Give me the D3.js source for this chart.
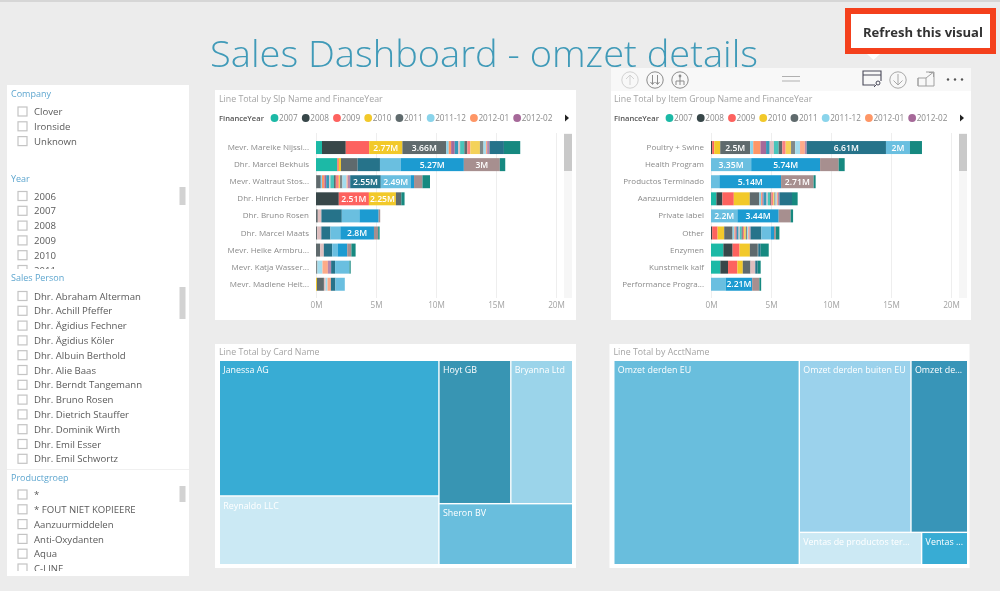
<!DOCTYPE html>
<html>
<head>
<meta charset="utf-8">
<title>Sales Dashboard - omzet details</title>
<script src="https://cdn.jsdelivr.net/npm/d3@7"></script>
<style>
  html, body { margin: 0; padding: 0; background: #ececec; overflow: hidden; }
  svg { display: block; font-family: "Open Sans", sans-serif; }
  .axis .domain { display: none; }
</style>
</head>
<body>
<div id="chart-area"></div>
<script>
// legend + stack order
const financeYears = ["2007", "2008", "2009", "2010", "2011", "2011-12", "2012-01", "2012-02",
    "2012-03", "2012-04", "2012-05", "2012-06", "2012-07", "2012-08", "2012-09", "2012-10",
    "2012-11", "2012-12", "2013", "2014", "2015", "2016", "2017"]
const yearColors = ["#1cb9a6", "#374649", "#fd625e", "#f2c92c", "#5f6b6d", "#8ad4eb", "#fe9666", "#a66999",
    "#3599b8", "#dfbfbf", "#4ac5bb", "#5f6b6d", "#fb8281", "#f4d25a", "#7f898a", "#a4ddee",
    "#fdab89", "#b687ac", "#28738a", "#6bbfe0", "#1a9bd1", "#a78f8f", "#168980"]

const slpNames = ["Mevr. Mareike Nijssi...", "Dhr. Marcel Bekhuis", "Mevr. Waltraut Stos...", "Dhr. Hinrich Ferber",
    "Dhr. Bruno Rosen", "Dhr. Marcel Maats", "Mevr. Heike Armbru...", "Mevr. Katja Wasser...", "Mevr. Madlene Heit..."]
const slpValues = [
    [.5, 1.98, 1.95, 2.77, 3.66, .2, .2, .3, .3, .15, .35, .25, .25, .8, .3, .2, .1, .2, 1.2, 0, 0, 0, 1.36],
    [1.78, 0, .12, .18, 1.39, 0, 0, 0, 0, 0, 0, 0, 0, 0, 0, 0, 0, 0, 1.86, 1.72, 5.27, 3, .45],
    [0, .05, 0, 0, .35, .1, .2, .15, .25, .1, .3, .15, .25, .1, .2, .35, .1, .2, 2.55, 2.49, .28, .7, .63],
    [0, 1.9, 2.51, 2.25, .45, 0, 0, 0, 0, 0, 0, 0, 0, 0, 0, 0, 0, 0, 0, 0, 0, 0, .27],
    [0, 0, 0, 0, .15, 0, 0, 0, 0, .3, 0, 0, 0, 0, 0, 0, 0, 0, 1.7, 1.47, 1.6, .13, 0],
    [0, 0, 0, 0, .1, 0, 0, 0, 0, .3, 0, 0, 0, 0, 0, 0, 0, .05, .75, .83, 2.8, .35, .12],
    [0, 0, 0, 0, .35, 0, 0, 0, 0, .3, 0, 0, 0, 0, 0, 0, 0, 0, .7, .45, .8, .35, .35],
    [0, 0, 0, 0, 0, 0, 0, 0, 0, 0, 0, 0, 0, 0, .12, .42, .45, .27, .33, 1.2, 0, 0, .1],
    [0, 0, 0, .08, .58, 0, 0, 0, 0, .15, 0, 0, 0, 0, 0, .15, .28, 0, .38, .78, 0, 0, 0]
]

const itemGroups = ["Poultry + Swine", "Health Program", "Productos Terminado", "Aanzuurmiddelen", "Private label",
    "Other", "Enzymen", "Kunstmelk kalf", "Performance Progra..."]
const itemValues = [
    [0, .1, .17, .5, 2.5, .25, .6, .47, .3, .35, .4, .3, .28, .45, .35, .4, .4, .15, 6.61, 2, 0, 0, 1],
    [0, 0, 0, 0, 0, 0, 0, 0, 0, 0, 0, 0, 0, 0, 0, 0, 0, 0, 0, 3.35, 5.74, 1.55, .5],
    [0, 0, 0, 0, 0, 0, 0, 0, 0, 0, 0, 0, 0, 0, 0, 0, 0, 0, 0, .7, 5.14, 2.71, .17],
    [.45, .5, .95, 1.33, .8, .15, .1, .1, .25, .1, .2, .1, .15, .1, .1, .1, .1, .12, 1.05, 0, 0, 0, .47],
    [0, 0, 0, 0, 0, 0, 0, 0, 0, 0, 0, 0, 0, 0, 0, 0, 0, 0, 0, 2.2, 3.44, 1, .2],
    [0, .1, .45, .55, .7, .15, .1, .1, .15, .1, .15, .1, .1, .15, .1, .1, .1, .1, .9, .8, .25, .15, .3],
    [1.03, .77, .58, .86, .6, 0, 0, 0, 0, 0, 0, 0, 0, 0, .1, 0, 0, 0, .2, 0, 0, 0, .67],
    [.78, .64, .78, .45, .64, 0, 0, 0, 0, .4, 0, 0, 0, 0, 0, 0, 0, 0, .2, 0, 0, 0, .25],
    [0, 0, 0, 0, 0, 0, 0, 0, 0, 0, 0, 0, 0, 0, 0, 0, 0, 0, 0, 1.22, 2.21, .6, .15]
]
const xTicks = [0, 5, 10, 15, 20]

// treemaps: nested lists give the split order power bi used
const cardTree = { children: [
    { children: [
        { name: "Janessa AG", value: 29.2, color: "#38acd4" },
        { name: "Reynaldo LLC", value: 14.8, color: "#cbe9f4" } ] },
    { children: [
        { children: [
            { name: "Hoyt GB", value: 10.1, color: "#3895b3" },
            { name: "Bryanna Ltd", value: 8.7, color: "#9bd4ea" } ] },
        { name: "Sheron BV", value: 8, color: "#69bedd" } ] }
] }
const acctTree = { children: [
    { name: "Omzet derden EU", value: 36.9, color: "#69bedd" },
    { children: [
        { children: [
            { name: "Omzet derden buiten EU", value: 18.7, color: "#9bd2ec" },
            { name: "Omzet de...", value: 9.5, color: "#3895b8" } ] },
        { children: [
            { name: "Ventas de productos ter...", value: 3.85, color: "#cce9f4" },
            { name: "Ventas ...", value: 1.45, color: "#38acd4" } ] } ] }
] }

// slicers
const companies = ["Clover", "Ironside", "Unknown"]
const years = ["2006", "2007", "2008", "2009", "2010", "2011"]
const salesPeople = ["Dhr. Abraham Alterman", "Dhr. Achill Pfeffer", "Dhr. Ägidius Fechner", "Dhr. Ägidius Köler",
    "Dhr. Albuin Berthold", "Dhr. Alie Baas", "Dhr. Berndt Tangemann", "Dhr. Bruno Rosen", "Dhr. Dietrich Stauffer",
    "Dhr. Dominik Wirth", "Dhr. Emil Esser", "Dhr. Emil Schwortz"]
const productGroups = ["*", "* FOUT NIET KOPIEERE", "Aanzuurmiddelen", "Anti-Oxydanten", "Aqua", "C-LINE"]

const WIDTH = 1000, HEIGHT = 591

const svg = d3.select("#chart-area").append("svg")
    .attr("width", WIDTH)
    .attr("height", HEIGHT)

const defs = svg.append("defs")
// the source is a soft, upscaled screenshot
defs.append("filter").attr("id", "soft")
    .attr("x", 0).attr("y", 0).attr("width", 1).attr("height", 1)
    .append("feGaussianBlur").attr("stdDeviation", 0.45)

const root = svg.append("g").attr("filter", "url(#soft)")

root.append("rect").attr("width", WIDTH).attr("height", HEIGHT).attr("fill", "#ececec")
root.append("rect").attr("width", WIDTH).attr("height", 2).attr("fill", "#d6d6d6")

root.append("text")
    .attr("x", 210).attr("y", 67)
    .attr("font-size", 37)
    .attr("font-weight", 300)
    .attr("fill", "#3f9ab8")
    .attr("textLength", 548)
    .attr("lengthAdjust", "spacingAndGlyphs")
    .text("Sales Dashboard - omzet details")

// ---- slicers
root.append("rect").attr("x", 7).attr("y", 85).attr("width", 182).attr("height", 491).attr("fill", "#fff")
root.append("line").attr("x1", 7).attr("x2", 189).attr("y1", 469.5).attr("y2", 469.5).attr("stroke", "#f0f0f0")

function slicer(id, title, titleY, items, firstY, clipBottom, thumb) {
    root.append("text").attr("x", 11).attr("y", titleY + 3.5)
        .attr("font-size", 9).attr("fill", "#5ea6cf").text(title)

    defs.append("clipPath").attr("id", id).append("rect")
        .attr("x", 7).attr("y", firstY - 8).attr("width", 170).attr("height", clipBottom - firstY + 8)

    const row = root.append("g").attr("clip-path", `url(#${id})`)
        .selectAll("g").data(items).join("g")
        .attr("transform", (d, i) => `translate(0, ${firstY + i * 14.8})`)
    row.append("rect")
        .attr("x", 18).attr("y", -4.5).attr("width", 9).attr("height", 9)
        .attr("fill", "#fff").attr("stroke", "#c4c4c4").attr("stroke-width", 1.2)
    row.append("text")
        .attr("x", 34).attr("y", 3.6)
        .attr("font-size", 9.6).attr("fill", "#5a5a5a").text(d => d)

    if (thumb) {
        root.append("rect").attr("x", 179.5).attr("y", thumb[0])
            .attr("width", 6).attr("height", thumb[1] - thumb[0]).attr("fill", "#d2d2d2")
    }
}
slicer("clip-company", "Company", 93, companies, 111.5, 160)
slicer("clip-year", "Year", 178, years, 196, 269, [187, 205])
slicer("clip-sales", "Sales Person", 277.5, salesPeople, 296, 468, [287, 319])
slicer("clip-product", "Productgroep", 477, productGroups, 494.5, 571, [486, 502])

// ---- stacked bars
function stackedBar(opts) {
    const x0 = opts.left, top = opts.top
    const panel = root.append("g")

    panel.append("rect").attr("x", opts.panelLeft).attr("y", top).attr("width", x0 + 361 - opts.panelLeft)
        .attr("height", 320 - top).attr("fill", "#fff")

    panel.append("text").attr("x", x0 + 4).attr("y", 101.5)
        .attr("font-size", 8.8).attr("fill", "#a4a4a4").text(opts.title)

    // legend
    const legend = panel.append("g").attr("transform", "translate(0, 118)")
    legend.append("text").attr("x", x0 + 4).attr("y", 3)
        .attr("font-size", 7.6).attr("font-weight", 600).attr("fill", "#555").text("FinanceYear")
    let lx = x0 + 59.5
    financeYears.slice(0, 8).forEach((y, i) => {
        legend.append("circle").attr("cx", lx).attr("cy", 0).attr("r", 3.9).attr("fill", yearColors[i])
        const t = legend.append("text").attr("x", lx + 4.5).attr("y", 3)
            .attr("font-size", 8.2).attr("fill", "#8a8a8a").text(y)
        lx += 4.5 + t.node().getComputedTextLength() + 8
    })
    legend.append("path").attr("d", `M${x0 + 350},-3.5L${x0 + 354},0L${x0 + 350},3.5Z`).attr("fill", "#222")

    // scales
    const x = d3.scaleLinear().domain([0, 20]).range([x0 + 101, x0 + 341])
    const y = d3.scaleBand().domain(opts.names).range([139, 292.8]).paddingInner(0.24).paddingOuter(0.12)

    // scrollbar sits behind the 20M gridline
    panel.append("rect").attr("x", x0 + 349).attr("y", 133).attr("width", 8).attr("height", 165).attr("fill", "#f6f6f6")
    panel.append("rect").attr("x", x0 + 349).attr("y", 134).attr("width", 8).attr("height", 37).attr("fill", "#c9c9c9")

    const xAxisCall = d3.axisBottom(x).tickValues(xTicks).tickFormat(d => d + "M").tickSize(-165).tickPadding(4)
    const xAxis = panel.append("g").attr("class", "axis")
        .attr("transform", "translate(0, 298)")
        .call(xAxisCall)
    xAxis.selectAll("line").attr("stroke", "#eeeeee")
    xAxis.selectAll("text").attr("font-size", 8.2).attr("fill", "#a2a2a2")
        .attr("font-family", "'Open Sans', sans-serif")

    const yAxisCall = d3.axisLeft(y).tickSize(0).tickPadding(0)
    const yAxis = panel.append("g").attr("class", "axis")
        .attr("transform", `translate(${x0 + 94}, 0)`)
        .call(yAxisCall)
    yAxis.selectAll("text").attr("font-size", 8).attr("fill", "#8a8a8a")
        .attr("font-family", "'Open Sans', sans-serif")

    // stack
    const rows = opts.values.map((v, i) => {
        const r = { name: opts.names[i] }
        financeYears.forEach((f, j) => { r[f] = v[j] })
        return r
    })
    const series = d3.stack().keys(financeYears)(rows)

    const layer = panel.selectAll(".layer").data(series).join("g")
        .attr("class", "layer")
        .attr("fill", (d, i) => yearColors[i])
    layer.selectAll("rect").data(d => d).join("rect")
        .attr("x", d => x(d[0]))
        .attr("y", d => y(d.data.name))
        .attr("width", d => x(d[1]) - x(d[0]))
        .attr("height", y.bandwidth())

    // data labels, only the wide segments get one
    layer.selectAll("text").data(d => d.filter(s => s[1] - s[0] >= 2)).join("text")
        .attr("x", d => (x(d[0]) + x(d[1])) / 2)
        .attr("y", d => y(d.data.name) + y.bandwidth() / 2 + 3.1)
        .attr("text-anchor", "middle")
        .attr("font-size", 8.6)
        .attr("font-weight", 600)
        .attr("fill", "#fff")
        .text(d => +(d[1] - d[0]).toFixed(2) + "M")
}

stackedBar({ left: 215, panelLeft: 215, top: 90, title: "Line Total by Slp Name and FinanceYear", names: slpNames, values: slpValues })
stackedBar({ left: 610, panelLeft: 611, top: 91, title: "Line Total by Item Group Name and FinanceYear", names: itemGroups, values: itemValues })

// ---- treemaps
function treemapPanel(opts) {
    root.append("rect").attr("x", opts.x0 - 5).attr("y", 344).attr("width", opts.panelWidth).attr("height", 224).attr("fill", "#fff")
    root.append("text").attr("x", opts.x0 - 1).attr("y", 355)
        .attr("font-size", 8.8).attr("fill", "#a4a4a4").text(opts.title)

    const hierarchy = d3.hierarchy(opts.tree).sum(d => d.value || 0)
    d3.treemap()
        .tile(d3.treemapSliceDice)
        .size([opts.x1 - opts.x0, 203])
        .paddingInner(1.4)(hierarchy)

    const cell = root.append("g").attr("transform", `translate(${opts.x0}, 361)`)
        .selectAll("g").data(hierarchy.leaves()).join("g")
        .attr("transform", d => `translate(${d.x0}, ${d.y0})`)
    cell.append("rect")
        .attr("width", d => d.x1 - d.x0)
        .attr("height", d => d.y1 - d.y0)
        .attr("fill", d => d.data.color)
    cell.append("text")
        .attr("x", 3.3).attr("y", 12)
        .attr("font-size", 8.9).attr("fill", "#fff")
        .text(d => d.data.name)
}
treemapPanel({ x0: 220, x1: 572, panelWidth: 361, title: "Line Total by Card Name", tree: cardTree })
treemapPanel({ x0: 614.5, x1: 967, panelWidth: 360, title: "Line Total by AcctName", tree: acctTree })

// ---- visual header on the right bar chart
const header = root.append("g")
header.append("rect").attr("x", 611).attr("y", 68).attr("width", 360).attr("height", 23).attr("fill", "#f8f8f8")

const iconStroke = "#8c8c8c"
header.selectAll("circle.btn").data([[630, "#d2d2d2"], [655, iconStroke], [680, iconStroke], [898, "#a8a8a8"]]).join("circle")
    .attr("class", "btn").attr("cx", d => d[0]).attr("cy", 80).attr("r", 8.2)
    .attr("fill", "none").attr("stroke", d => d[1]).attr("stroke-width", 1)
header.append("path").attr("d", "M630,85V75M626,79L630,75L634,79").attr("fill", "none").attr("stroke", "#d2d2d2")
header.append("path").attr("d", "M652.5,75V84M650.5,82L652.5,84.5L654.5,82M657.5,75V84M655.5,82L657.5,84.5L659.5,82")
    .attr("fill", "none").attr("stroke", iconStroke)
header.append("path").attr("d", "M680,75V79M676,85V81H684V85M680,79V85").attr("fill", "none").attr("stroke", iconStroke)
header.append("circle").attr("cx", 680).attr("cy", 76).attr("r", 1.4).attr("fill", iconStroke)
header.append("path").attr("d", "M898,74V85M893.5,80.5L898,85L902.5,80.5").attr("fill", "none").attr("stroke", "#a8a8a8")
header.append("path").attr("d", "M782,76.5H800M782,81H800").attr("stroke", "#b0b0b0").attr("stroke-width", 1.2)
// refresh icon
header.append("path").attr("d", "M875,85H863V71H881V81M863,75H881").attr("fill", "none").attr("stroke", "#4a4a5a").attr("stroke-width", 1.1)
header.append("circle").attr("cx", 878).attr("cy", 83).attr("r", 2).attr("fill", "none").attr("stroke", "#4a4a5a")
header.append("path").attr("d", "M876.5,84.5L874,87").attr("stroke", "#4a4a5a")
// focus icon
header.append("path").attr("d", "M926,72H934V86H918V78M918,86V78H926V86M926,78L933,72.5M929,72.5H933.5V77")
    .attr("fill", "none").attr("stroke", "#a0a0a0")
header.selectAll("circle.dot").data([948, 955, 962]).join("circle")
    .attr("class", "dot").attr("cx", d => d).attr("cy", 79.5).attr("r", 1.2).attr("fill", "#555")

// ---- tooltip callout
root.append("path").attr("d", "M867,54L873.5,60L880,54Z").attr("fill", "#fff")
root.append("rect").attr("x", 848).attr("y", 11).attr("width", 145).attr("height", 40)
    .attr("fill", "#fff").attr("stroke", "#f4401f").attr("stroke-width", 6)
root.append("text").attr("x", 923).attr("y", 37)
    .attr("text-anchor", "middle")
    .attr("font-size", 12.6).attr("font-weight", 700).attr("fill", "#333")
    .attr("textLength", 120)
    .attr("lengthAdjust", "spacingAndGlyphs")
    .text("Refresh this visual")
</script>
</body>
</html>
